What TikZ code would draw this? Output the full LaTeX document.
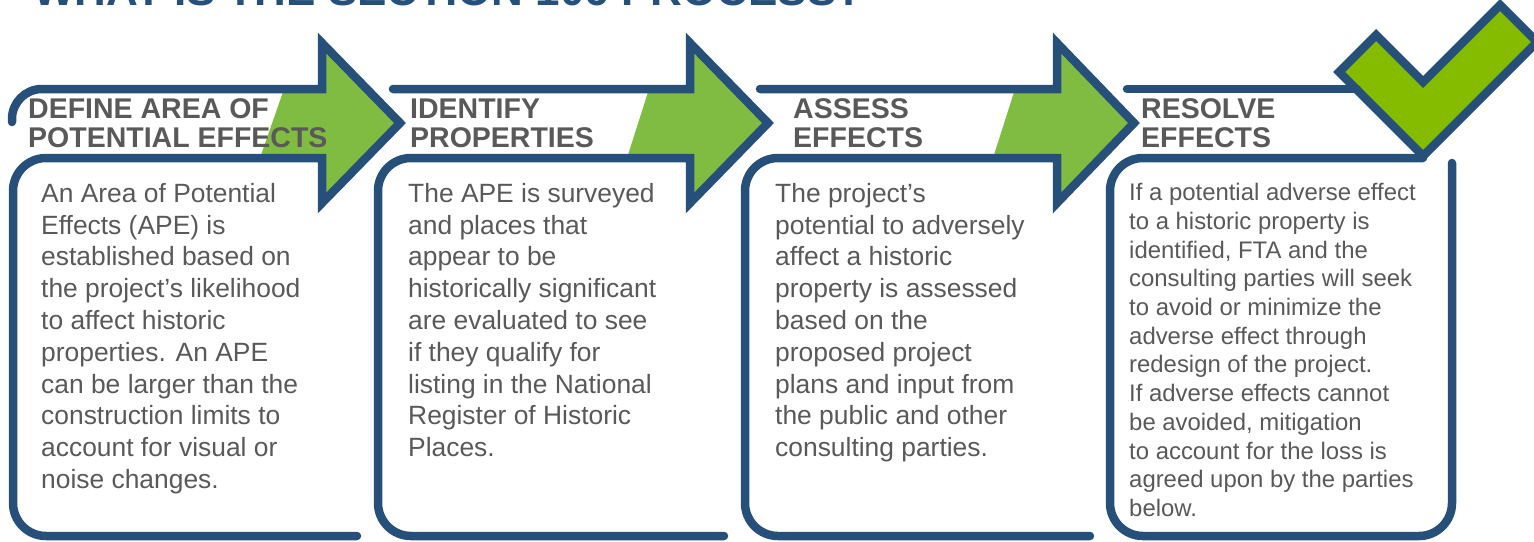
\documentclass[tikz,border=0pt]{standalone}
\usepackage{fontspec}
\setmainfont{Liberation Sans}
\definecolor{navy}{RGB}{38,80,122}
\definecolor{agreen}{RGB}{128,188,65}
\definecolor{cgreen}{RGB}{134,188,0}
\definecolor{txtgray}{RGB}{89,89,89}
\tikzset{
  outline/.style={draw=navy, line width=8.5pt, line cap=round, line join=miter},
  bodytext/.style={font=\fontsize{26.4}{31.8}\selectfont, text=txtgray, inner sep=0pt, anchor=base west},
  smalltext/.style={font=\fontsize{23.9}{28.7}\selectfont, text=txtgray, inner sep=0pt, anchor=base west},
  headtext/.style={font=\bfseries\fontsize{28.5}{28.5}\selectfont, text=txtgray, inner sep=0pt, anchor=base west},
}
\begin{document}
\begin{tikzpicture}[x=1pt,y=-1pt]
\useasboundingbox (0,0) rectangle (1534,541);
\clip (0,0) rectangle (1534,541);
% title (cut off at top)
\node[font=\bfseries\fontsize{44}{44}\selectfont, text=navy, inner sep=0pt, anchor=base west] (title) at (33,5) {WHAT IS THE SECTION 106 PROCESS?};
% green fills of arrows
\fill[agreen] (284,89) -- (322,89) -- (322,43) -- (400,123) -- (322,203) -- (322,158) -- (260,158) -- cycle;
\fill[agreen] (649,89) -- (690,89) -- (690,43) -- (768,123) -- (690,203) -- (690,158) -- (627,158) -- cycle;
\fill[agreen] (1015,89) -- (1057,89) -- (1057,43) -- (1134,123) -- (1057,203) -- (1057,158) -- (993,158) -- cycle;
% checkmark
\draw[outline, fill=cgreen] (1376,35) -- (1339,72) -- (1423,156) -- (1537,42) -- (1500,5) -- (1423,82) -- cycle;
% outlines
\draw[outline] (357,536) [rounded corners=33pt] -- (13,536) -- (13,158) [sharp corners] -- (322,158) -- (322,203) -- (400,123) -- (322,43) -- (322,89) [rounded corners=30pt] -- (12,89) -- (12,122);
\draw[outline] (724,536) [rounded corners=33pt] -- (378,536) -- (378,158) [sharp corners] -- (690,158) -- (690,203) -- (768,123) -- (690,43) -- (690,89) -- (393,89);
\draw[outline] (1090,536) [rounded corners=33pt] -- (745,536) -- (745,158) [sharp corners] -- (1057,158) -- (1057,203) -- (1134,123) -- (1057,43) -- (1057,89) -- (760,89);
\draw[outline] (1452,163) [rounded corners=33pt] -- (1452,536) -- (1110,536) -- (1110,158) -- (1423,158);
\draw[outline] (1127,89) -- (1357,89);
% headings
\node[headtext] (h1a) at (28,118.5) {DEFINE AREA OF};
\node[headtext] (h1b) at (28,147) {POTENTIAL EFFECTS};
\node[headtext] (h2a) at (410,118.5) {IDENTIFY};
\node[headtext] (h2b) at (410,147) {PROPERTIES};
\node[headtext] (h3a) at (793,118.5) {ASSESS};
\node[headtext] (h3b) at (793,147) {EFFECTS};
\node[headtext] (h4a) at (1141,118.5) {RESOLVE};
\node[headtext] (h4b) at (1141,147) {EFFECTS};
% body texts
\foreach \t [count=\i] in {An Area of Potential, Effects (APE) is, established based on, the project’s likelihood, to affect historic, properties. An APE, can be larger than the, construction limits to, account for visual or, noise changes.}
  \node[bodytext] (ba\i) at (41,{202.3+31.8*(\i-1)}) {\t};
\foreach \t [count=\i] in {The APE is surveyed, and places that, appear to be, historically significant, are evaluated to see, if they qualify for, listing in the National, Register of Historic, Places.}
  \node[bodytext] (bb\i) at (408,{202.3+31.8*(\i-1)}) {\t};
\foreach \t [count=\i] in {The project’s, potential to adversely, affect a historic, property is assessed, based on the, proposed project, plans and input from, the public and other, consulting parties.}
  \node[bodytext] (bc\i) at (775,{202.3+31.8*(\i-1)}) {\t};
\foreach \t [count=\i] in {If a potential adverse effect, to a historic property is, {identified, FTA and the}, consulting parties will seek, to avoid or minimize the, adverse effect through, redesign of the project., If adverse effects cannot, {be avoided, mitigation}, to account for the loss is, agreed upon by the parties, below.}
  \node[smalltext] (bd\i) at (1129,{200.7+28.7*(\i-1)}) {\t};
\end{tikzpicture}
\end{document}
